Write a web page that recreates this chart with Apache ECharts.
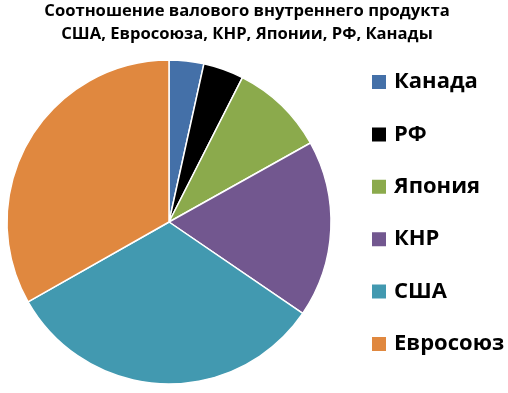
<!DOCTYPE html>
<html><head><meta charset="utf-8">
<script src="https://cdn.jsdelivr.net/npm/echarts@6/dist/echarts.min.js"></script>
<style>html,body{margin:0;padding:0;background:#fff}#c{width:508px;height:393px}</style>
</head><body><div id="c"></div>
<script>
const categories = ['Канада', 'РФ', 'Япония', 'КНР', 'США', 'Евросоюз'];
const values = [1.8, 2.1, 4.9, 9.2, 16.8, 17.3];
const colors = ['#4470A8', '#000000', '#8BAA4C', '#72578F', '#4299B0', '#E0883F'];
const titleText = 'Соотношение валового внутреннего продукта\nСША, Евросоюза, КНР, Японии, РФ, Канады';

const chart = echarts.init(document.getElementById('c'), null, {renderer: 'canvas'});
chart.setOption({
  animation: false,
  backgroundColor: '#fff',
  title: {
    text: titleText,
    left: 247, top: 0, textAlign: 'center', padding: 0,
    textStyle: {fontFamily: 'Open Sans', fontWeight: 'bold', fontSize: 16.6, lineHeight: 23, color: '#000'}
  },
  legend: {
    orient: 'vertical',
    left: 370, top: 71, padding: 0,
    icon: 'rect', itemWidth: 16, itemHeight: 16, itemGap: 30.4,
    data: categories,
    textStyle: {fontFamily: 'Open Sans', fontWeight: 'bold', fontSize: 22, lineHeight: 22, color: '#000', padding: [0, 0, 0, 2]}
  },
  series: [{
    type: 'pie',
    center: [169, 222], radius: 162,
    startAngle: 90, clockwise: true,
    label: {show: false}, labelLine: {show: false},
    itemStyle: {borderColor: '#fff', borderWidth: 1.5},
    emphasis: {disabled: true},
    data: categories.map((n, i) => ({name: n, value: values[i], itemStyle: {color: colors[i]}}))
  }]
});
</script></body></html>
